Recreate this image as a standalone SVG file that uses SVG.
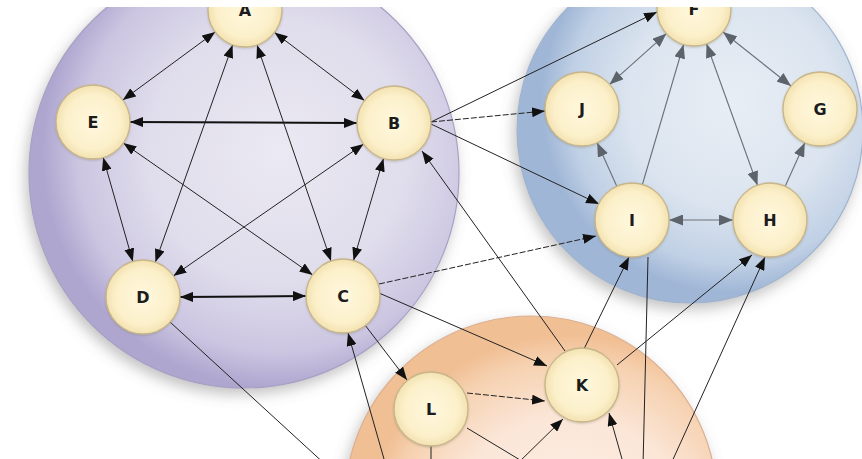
<svg xmlns="http://www.w3.org/2000/svg" width="862" height="459" viewBox="0 0 862 459">
<defs>
  <radialGradient id="gPurple" cx="0.58" cy="0.45" r="0.55">
    <stop offset="0" stop-color="#ebe9f2"/>
    <stop offset="0.55" stop-color="#e0ddec"/>
    <stop offset="0.85" stop-color="#cbc5e1"/>
    <stop offset="1" stop-color="#aea6cf"/>
  </radialGradient>
  <radialGradient id="gBlue" cx="0.62" cy="0.42" r="0.55">
    <stop offset="0" stop-color="#e9eef5"/>
    <stop offset="0.55" stop-color="#dbe4ef"/>
    <stop offset="0.85" stop-color="#c0d0e5"/>
    <stop offset="1" stop-color="#9fb6d6"/>
  </radialGradient>
  <radialGradient id="gOrange" cx="0.6" cy="0.6" r="0.55">
    <stop offset="0" stop-color="#fdf2ec"/>
    <stop offset="0.6" stop-color="#fbe6d7"/>
    <stop offset="0.88" stop-color="#f6d1b0"/>
    <stop offset="1" stop-color="#f1bf94"/>
  </radialGradient>
  <radialGradient id="gNode" cx="0.5" cy="0.5" r="0.5">
    <stop offset="0" stop-color="#fff8de"/>
    <stop offset="0.75" stop-color="#fcf0ca"/>
    <stop offset="1" stop-color="#f3e2b1"/>
  </radialGradient>
  <filter id="cshadow" x="-20%" y="-20%" width="140%" height="140%">
    <feDropShadow dx="-3" dy="6" stdDeviation="7" flood-color="#666" flood-opacity="0.4"/>
  </filter>
  <filter id="nshadow" x="-20%" y="-20%" width="140%" height="140%">
    <feDropShadow dx="0" dy="1" stdDeviation="1" flood-color="#776" flood-opacity="0.35"/>
  </filter>
  <marker id="ab" viewBox="0 0 13 10" refX="13" refY="5" markerWidth="13" markerHeight="10" markerUnits="userSpaceOnUse" orient="auto-start-reverse">
    <path d="M0,0 L13,5 L0,10 z" fill="#111"/>
  </marker>
  <marker id="ag" viewBox="0 0 14 11" refX="14" refY="5.5" markerWidth="14" markerHeight="11" markerUnits="userSpaceOnUse" orient="auto-start-reverse">
    <path d="M0,0 L14,5.5 L0,11 z" fill="#5d636b"/>
  </marker>
</defs>
<style>
  .cl { stroke-width: 1.2; }
  .e { fill: none; stroke: #222; stroke-width: 1; }
  .thick { stroke-width: 2; stroke: #111; }
  .dash { stroke-dasharray: 6 2; }
  .g { fill: none; stroke: #6a7079; stroke-width: 1.1; }
  .be { marker-end: url(#ab); }
  .bb { marker-start: url(#ab); marker-end: url(#ab); }
  .ge { marker-end: url(#ag); }
  .gb { marker-start: url(#ag); marker-end: url(#ag); }
  .node circle { fill: url(#gNode); stroke: #c8b68a; stroke-width: 1.3; filter: url(#nshadow); }
  .node text { font-family: "DejaVu Sans", Verdana, sans-serif; font-weight: bold; font-size: 16px; fill: #1c1c1c; text-anchor: middle; }
</style>
<rect x="0" y="0" width="862" height="459" fill="#ffffff"/>
<g id="clusters">
  <circle id="cluster-purple" class="cl" cx="244" cy="173" r="215" fill="url(#gPurple)" stroke="#a8a1c3" filter="url(#cshadow)"/>
  <circle id="cluster-blue" class="cl" cx="690" cy="130" r="173" fill="url(#gBlue)" stroke="#a0b3cc" filter="url(#cshadow)"/>
  <circle id="cluster-orange" class="cl" cx="531" cy="502" r="186" fill="url(#gOrange)" stroke="#dbb093" filter="url(#cshadow)"/>
</g>
<g id="connectors">
  <path class="e bb" d="M215.2,32 L122.8,100"/>
  <path class="e bb" d="M274.5,32.4 L364.5,100.6"/>
  <path class="e bb thick" d="M130,122 L357,123"/>
  <path class="e bb" d="M232.6,44.9 L155.4,262.1"/>
  <path class="e bb" d="M257,45 L331,261"/>
  <path class="e bb" d="M103.2,157.6 L132.8,261.4"/>
  <path class="e bb" d="M123.4,143.1 L312.6,274.9"/>
  <path class="e bb" d="M363.6,144.1 L173.4,275.9"/>
  <path class="e bb" d="M383.5,158.5 L353.5,260.5"/>
  <path class="e bb thick" d="M180,297 L306,296"/>
  <path class="g gb" d="M666.4,33.6 L609.6,84.4"/>
  <path class="g gb" d="M723,32 L791,86"/>
  <path class="g gb" d="M706.5,43.8 L757.5,185.2"/>
  <path class="g ge" d="M642.4,184.5 L683.6,44.5"/>
  <path class="g ge" d="M616.8,186.3 L597.2,142.7"/>
  <path class="g gb" d="M669,220 L733,220"/>
  <path class="g ge" d="M785.2,186.3 L804.8,142.7"/>
  <path class="e be" d="M431,122 L657,12"/>
  <path class="e be dash" d="M431,122 L545,111"/>
  <path class="e be" d="M431,124 L599,204"/>
  <path class="e be dash" d="M379,284 L596,236"/>
  <path class="e be" d="M379,293 L547,366"/>
  <path class="e be" d="M365,325 L407,380"/>
  <path class="e be" d="M386,466 L348,333"/>
  <path class="e" d="M170,322 L327,466"/>
  <path class="e be" d="M565,351 L422,151"/>
  <path class="e be" d="M584,349 L629,257"/>
  <path class="e be" d="M617,365 L752,255"/>
  <path class="e be" d="M670,466 L765,257"/>
  <path class="e" d="M648,257 L643,466"/>
  <path class="e be" d="M624,466 L609,413"/>
  <path class="e be" d="M515,466 L563,419"/>
  <path class="e be dash" d="M467,393 L545,401"/>
  <path class="e" d="M467,428 L530,466"/>
  <path class="e" d="M431,446 L431,466"/>
</g>
<g id="node-A" class="node"><circle cx="245" cy="10" r="37"/><text x="245" y="16">A</text></g>
<g id="node-B" class="node"><circle cx="394" cy="123" r="37"/><text x="394" y="129">B</text></g>
<g id="node-C" class="node"><circle cx="343" cy="296" r="37"/><text x="343" y="302">C</text></g>
<g id="node-D" class="node"><circle cx="143" cy="297" r="37"/><text x="143" y="303">D</text></g>
<g id="node-E" class="node"><circle cx="93" cy="122" r="37"/><text x="93" y="128">E</text></g>
<g id="node-F" class="node"><circle cx="694" cy="9" r="37"/><text x="694" y="15">F</text></g>
<g id="node-G" class="node"><circle cx="820" cy="109" r="37"/><text x="820" y="115">G</text></g>
<g id="node-H" class="node"><circle cx="770" cy="220" r="37"/><text x="770" y="226">H</text></g>
<g id="node-I" class="node"><circle cx="632" cy="220" r="37"/><text x="632" y="226">I</text></g>
<g id="node-J" class="node"><circle cx="582" cy="109" r="37"/><text x="582" y="115">J</text></g>
<g id="node-K" class="node"><circle cx="582" cy="385" r="37"/><text x="582" y="391">K</text></g>
<g id="node-L" class="node"><circle cx="431" cy="409" r="37"/><text x="431" y="415">L</text></g>
<rect x="0" y="0" width="862" height="7" fill="#ffffff"/>
</svg>
